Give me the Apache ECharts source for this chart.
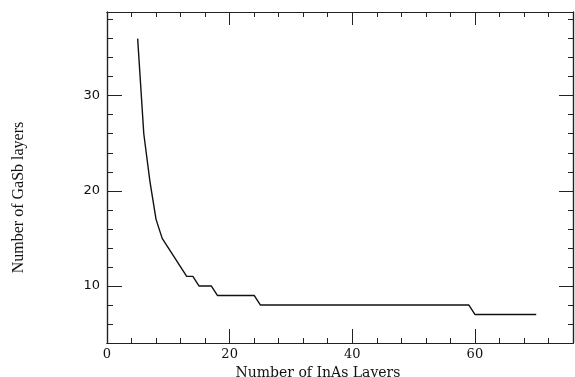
<!DOCTYPE html>
<html>
<head>
<meta charset="utf-8">
<script src="https://cdn.jsdelivr.net/npm/echarts@6/dist/echarts.min.js"></script>
<style>
  html, body { margin: 0; padding: 0; background: #fff; }
  #chart { width: 575px; height: 377px; }
</style>
</head>
<body>
<div id="chart"></div>
<script>
// InAs layers vs minimum GaSb layers
const inAs = [5, 6, 7, 8, 9, 13, 14, 15, 17, 18, 24, 25, 59, 60, 70];
const gaSb = [36, 26, 21, 17, 15, 11, 11, 10, 10, 9, 9, 8, 8, 7, 7];

const xMajor = [0, 20, 40, 60];
const yMajor = [10, 20, 30];
const xMinor = [];
for (let v = 0; v <= 76; v += 4) xMinor.push(v);
const yMinor = [];
for (let v = 4; v <= 38; v += 2) yMinor.push(v);

const X_MIN = 0, X_MAX = 76, Y_MIN = 4, Y_MAX = 38.8;

let chartDom = document.getElementById('chart');
let myChart = echarts.init(chartDom);

function xAx(pos, ticks, len, labels, extra) {
  return Object.assign({
    type: 'value', position: pos, min: X_MIN, max: X_MAX,
    splitLine: { show: false },
    axisLine: { show: true, onZero: false, lineStyle: { color: '#222', width: 1.2 } },
    axisTick: { show: true, inside: true, length: len, customValues: ticks, lineStyle: { color: '#222', width: 1 } },
    axisLabel: labels ? {
      customValues: labels, margin: 5, color: '#111',
      fontFamily: 'DejaVu Serif', fontSize: 13
    } : { show: false }
  }, extra || {});
}

function yAx(pos, ticks, len, labels, extra) {
  return Object.assign({
    type: 'value', position: pos, min: Y_MIN, max: Y_MAX,
    splitLine: { show: false },
    axisLine: { show: true, onZero: false, lineStyle: { color: '#222', width: 1.2 } },
    axisTick: { show: true, inside: true, length: len, customValues: ticks, lineStyle: { color: '#222', width: 1 } },
    axisLabel: labels ? {
      customValues: labels, margin: 7, color: '#111',
      fontFamily: 'DejaVu Sans', fontSize: 13
    } : { show: false }
  }, extra || {});
}

let option = {
  animation: false,
  grid: { left: 107, right: 2, top: 12, bottom: 34, outerBoundsMode: 'none' },
  xAxis: [
    xAx('bottom', xMinor, 5, null),
    xAx('bottom', xMajor, 14, xMajor, {
      name: 'Number of InAs Layers',
      nameLocation: 'middle',
      nameGap: 20,
      nameTextStyle: { fontFamily: 'DejaVu Serif', fontSize: 14, color: '#111', padding: [0, 44, 0, 0] }
    }),
    xAx('top', xMinor, 5, null),
    xAx('top', xMajor, 13, null)
  ],
  yAxis: [
    yAx('left', yMinor, 6, null),
    yAx('left', yMajor, 15, yMajor, {
      name: 'Number of GaSb layers',
      nameLocation: 'middle',
      nameGap: 80,
      nameTextStyle: { fontFamily: 'Liberation Serif', fontSize: 16, color: '#111', padding: [0, 40, 0, 0] }
    }),
    yAx('right', yMinor, 5, null),
    yAx('right', yMajor, 14, null)
  ],
  series: [
    {
      type: 'line',
      xAxisIndex: 0,
      yAxisIndex: 0,
      data: inAs.map((x, i) => [x, gaSb[i]]),
      showSymbol: false,
      symbol: 'none',
      lineStyle: { color: '#111', width: 1.4 }
    }
  ]
};

option && myChart.setOption(option);
</script>
</body>
</html>
